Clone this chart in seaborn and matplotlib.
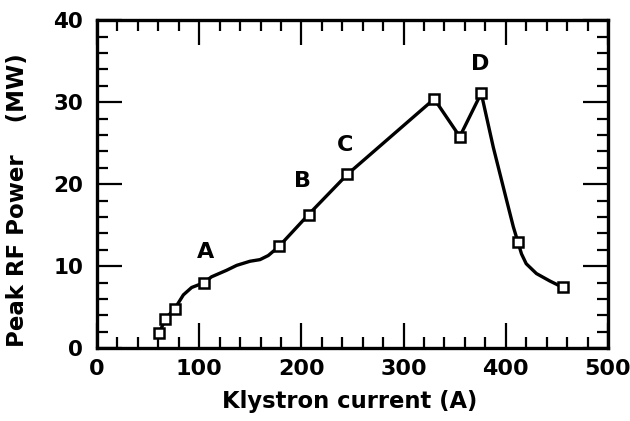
import pandas as pd
import numpy as np
import matplotlib.pyplot as plt
import seaborn as sns
from matplotlib.ticker import MultipleLocator

# measured points (squares)
current = [60.7, 67, 76, 105, 178, 207, 245, 330, 355, 376, 412, 456]
power = [1.8, 3.6, 4.8, 8.0, 12.4, 16.3, 21.2, 30.4, 25.8, 31.1, 12.9, 7.4]

# points
curve_x = [60.7, 67, 76, 84.5, 92.6, 105, 112, 126.8, 136.7, 149.7, 159.5, 167.6, 178,
           207, 245, 330, 355, 376, 387.8, 400.9, 407.4, 412, 415.4, 420, 430, 443, 456]
curve_y = [1.8, 3.6, 4.8, 6.5, 7.4, 8.0, 8.7, 9.5, 10.1, 10.6, 10.8, 11.3, 12.4,
           16.3, 21.2, 30.4, 25.8, 31.1, 24.5, 18.0, 14.8, 12.9, 11.5, 10.3, 9.1, 8.2, 7.4]

labels = ['A', 'B', 'C', 'D']
label_x = [106, 201, 243, 375]
label_y = [11.7, 20.4, 24.8, 34.7]

pts = pd.DataFrame({'current': current, 'power': power})
curve = pd.DataFrame({'x': curve_x, 'y': curve_y})

sns.set_style('ticks')
plt.rcParams['font.family'] = ['DejaVu Sans']
plt.rcParams['font.weight'] = 'bold'
plt.rcParams['text.color'] = 'black'
plt.rcParams['xtick.color'] = 'black'
plt.rcParams['ytick.color'] = 'black'

fig = plt.figure(figsize=(6.3, 4.21), dpi=100)
ax = fig.add_axes([0.154, 0.173, 0.811, 0.779])

sns.lineplot(data=curve, x='x', y='y', ax=ax, color='black', linewidth=2.4,
             sort=False, estimator=None)
ax.plot(pts['current'], pts['power'], linestyle='none', marker='s', markersize=7.5,
        markerfacecolor='white', markeredgecolor='black', markeredgewidth=1.8, zorder=5)

for t, x, y in zip(labels, label_x, label_y):
    ax.text(x, y, t, ha='center', va='center', fontsize=16, fontweight='bold', color='black')

ax.set_xlim(0, 500)
ax.set_ylim(0, 40)
ax.xaxis.set_major_locator(MultipleLocator(100))
ax.xaxis.set_minor_locator(MultipleLocator(20))
ax.yaxis.set_major_locator(MultipleLocator(10))
ax.yaxis.set_minor_locator(MultipleLocator(2))
ax.tick_params(which='both', direction='in', top=True, right=True, width=1.6,
               color='black', labelcolor='black')
ax.tick_params(which='major', length=18)
ax.tick_params(which='minor', length=8)
ax.tick_params(axis='x', labelsize=16, pad=8)
ax.tick_params(axis='y', labelsize=15.5, pad=10)
for s in ax.spines.values():
    s.set_linewidth(2.4)
    s.set_color('black')

ax.set_xlabel('')
ax.set_ylabel('')
fig.text(0.555, 0.047, 'Klystron current (A)', ha='center', va='center',
         fontsize=16.3, fontweight='bold', color='black')
fig.text(0.027, 0.525, 'Peak RF Power    (MW)', ha='center', va='center',
         rotation=90, fontsize=16.5, fontweight='bold', color='black')

fig.savefig('out.png', dpi=100)
